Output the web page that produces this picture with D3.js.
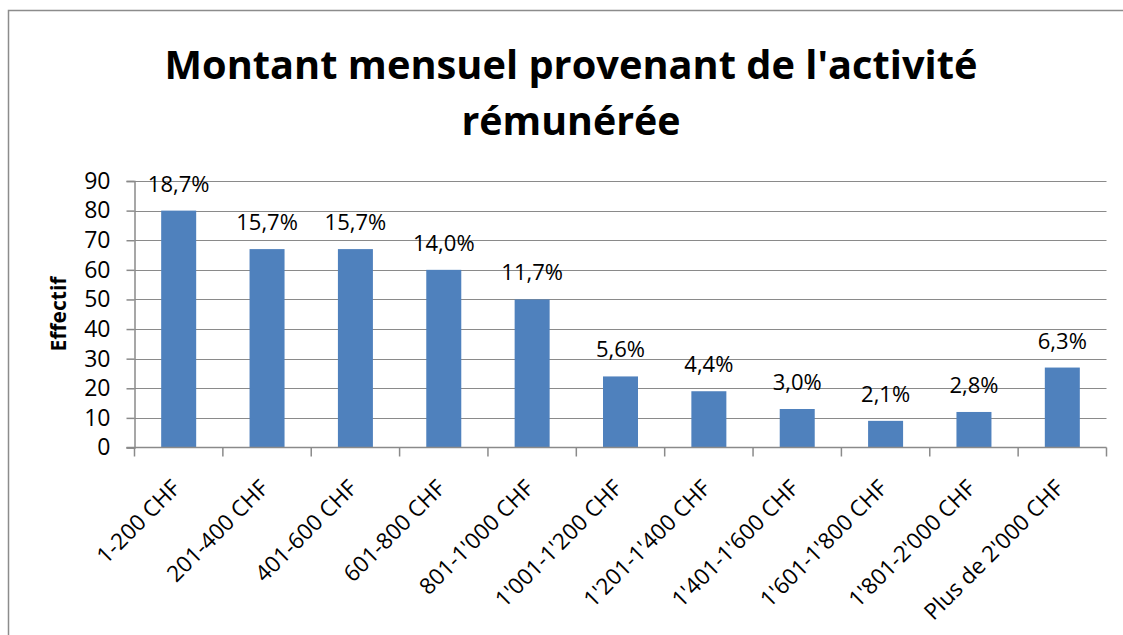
<!DOCTYPE html>
<html>
<head>
<meta charset="utf-8">
<script src="https://cdn.jsdelivr.net/npm/d3@7"></script>
<style>
  html, body { margin: 0; padding: 0; background: #fff; }
  svg { display: block; }
  text { font-family: "Open Sans", sans-serif; fill: #000; }
</style>
</head>
<body>
<svg id="chart" width="1123" height="635"></svg>
<script>
const categories = ["1-200 CHF", "201-400 CHF", "401-600 CHF", "601-800 CHF", "801-1'000 CHF",
  "1'001-1'200 CHF", "1'201-1'400 CHF", "1'401-1'600 CHF", "1'601-1'800 CHF", "1'801-2'000 CHF", "Plus de 2'000 CHF"];
const values = [80, 67, 67, 60, 50, 24, 19, 13, 9, 12, 27];
const percentLabels = ["18,7%", "15,7%", "15,7%", "14,0%", "11,7%", "5,6%", "4,4%", "3,0%", "2,1%", "2,8%", "6,3%"];
const yTicks = [0, 10, 20, 30, 40, 50, 60, 70, 80, 90];
const titleLines = ["Montant mensuel provenant de l'activité", "rémunérée"];
const yAxisTitle = "Effectif";

const svg = d3.select("#chart");

// outer chart-area border
svg.append("rect").attr("x", 8.5).attr("y", 10.5).attr("width", 1200).attr("height", 700)
  .attr("fill", "none").attr("stroke", "#8c8c8c").attr("stroke-width", 1.5);

const pLeft = 134.5, pRight = 1106.5, pTop = 181, pBottom = 447.5;

const xb = d3.scaleBand().domain(categories).range([pLeft, pRight]);
const y = d3.scaleLinear().domain([0, 90]).range([pBottom, pTop]);

// gridlines
svg.append("g").selectAll("line").data(yTicks.filter(d => d > 0)).join("line")
  .attr("x1", pLeft).attr("x2", pRight)
  .attr("y1", d => Math.round(y(d)) + 0.5).attr("y2", d => Math.round(y(d)) + 0.5)
  .attr("stroke", "#8a8a8a").attr("stroke-width", 1.2);

// bars
const bw = 35;
svg.append("g").selectAll("rect").data(values).join("rect")
  .attr("x", (d, i) => xb(categories[i]) + xb.bandwidth() / 2 - bw / 2)
  .attr("y", d => y(d))
  .attr("width", bw)
  .attr("height", d => pBottom - y(d))
  .attr("fill", "#4F81BD");

// y axis
const yAxis = d3.axisLeft(y).tickValues(yTicks).tickSize(8).tickPadding(16).tickFormat(d3.format("d"));
const gy = svg.append("g").attr("transform", `translate(${pLeft},0)`).call(yAxis);
gy.select(".domain").attr("stroke", "#8a8a8a").attr("stroke-width", 1.5);
gy.selectAll(".tick line").attr("stroke", "#8a8a8a").attr("stroke-width", 1.5);
gy.selectAll(".tick text").attr("font-size", 23).attr("font-family", "Open Sans, sans-serif").attr("fill", "#000");

// x axis
const xAxis = d3.axisBottom(xb).tickSize(0).tickFormat("");
const gx = svg.append("g").attr("transform", `translate(0,${pBottom})`).call(xAxis);
gx.select(".domain").attr("stroke", "#8a8a8a").attr("stroke-width", 1.5).attr("d", `M${pLeft - 8},0H${pRight}`);
const boundaries = categories.map(c => xb(c)).concat([pRight]);
gx.selectAll("line.bt").data(boundaries).join("line").attr("class", "bt")
  .attr("x1", d => d).attr("x2", d => d).attr("y1", 0).attr("y2", 9)
  .attr("stroke", "#8a8a8a").attr("stroke-width", 1.5);

// x labels rotated
svg.append("g").selectAll("text").data(categories).join("text")
  .attr("transform", d => `translate(${xb(d) + xb.bandwidth() / 2 + 3},${pBottom + 42}) rotate(-45)`)
  .attr("text-anchor", "end")
  .attr("font-size", 22.5)
  .text(d => d);

// data labels
svg.append("g").selectAll("text").data(values).join("text")
  .attr("x", (d, i) => xb(categories[i]) + xb.bandwidth() / 2)
  .attr("y", d => y(d) - 19)
  .attr("text-anchor", "middle")
  .attr("font-size", 22)
  .text((d, i) => percentLabels[i]);

// y axis title
svg.append("text")
  .attr("transform", "translate(66,314) rotate(-90)")
  .attr("text-anchor", "middle")
  .attr("font-size", 21)
  .attr("font-weight", "bold")
  .text(yAxisTitle);

// title
const tl = [{ t: titleLines[0], y: 79, w: 813 }, { t: titleLines[1], y: 135, w: 219 }];
svg.append("g").selectAll("text").data(tl).join("text")
  .attr("x", 571).attr("y", d => d.y)
  .attr("text-anchor", "middle")
  .attr("font-size", 39)
  .attr("font-weight", "bold")
  .attr("textLength", d => d.w)
  .attr("lengthAdjust", "spacingAndGlyphs")
  .text(d => d.t);
</script>
</body>
</html>
